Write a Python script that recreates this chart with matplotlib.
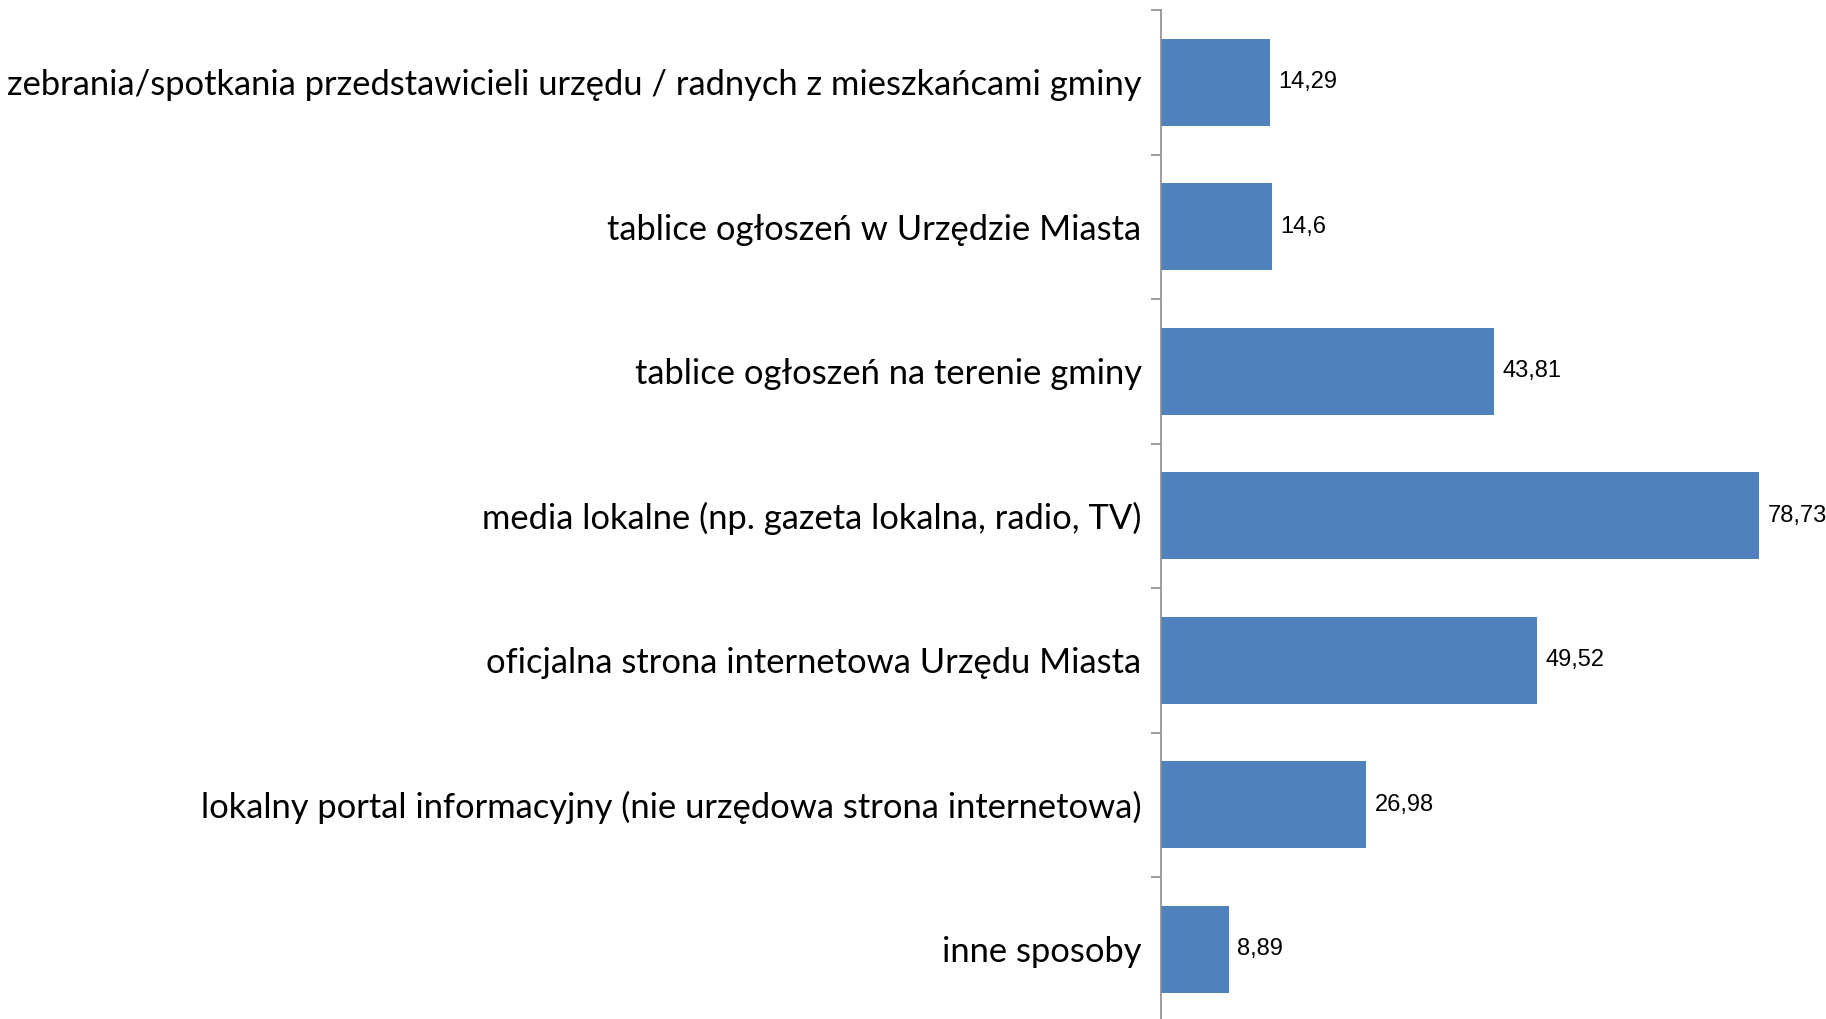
import matplotlib
matplotlib.use("Agg")
import matplotlib.pyplot as plt
import numpy as np

categories = [
    "zebrania/spotkania przedstawicieli urzędu / radnych z mieszkańcami gminy",
    "tablice ogłoszeń w Urzędzie Miasta",
    "tablice ogłoszeń na terenie gminy",
    "media lokalne (np. gazeta lokalna, radio, TV)",
    "oficjalna strona internetowa Urzędu Miasta",
    "lokalny portal informacyjny (nie urzędowa strona internetowa)",
    "inne sposoby",
]
values = [14.29, 14.6, 43.81, 78.73, 49.52, 26.98, 8.89]
value_labels = ["14,29", "14,6", "43,81", "78,73", "49,52", "26,98", "8,89"]

W, H = 1826, 1019
fig = plt.figure(figsize=(W / 100, H / 100), dpi=100)
ax_left = 1161 / W
ax_bottom = -2.6 / H
ax_top = 10 / H
ax = fig.add_axes([ax_left, ax_bottom, 1 - ax_left, 1 - ax_top - ax_bottom])

n = len(categories)
y = np.arange(n)
ax.barh(y, values, height=0.6, color="#4F81BD")
ax.set_ylim(n - 0.5, -0.5)
ax.set_xlim(0, (W - 1161) / 7.6)

for yi, v, lab in zip(y, values, value_labels):
    ax.annotate(lab, (v, yi), xytext=(6, 0), textcoords="offset points",
                va="center", ha="left", fontsize=17,
                family=["Liberation Sans Narrow", "Liberation Sans", "DejaVu Sans"])

label_family = ["Lato", "DejaVu Sans"]
# fit label size so the longest label spans the same width as in the reference
renderer = fig.canvas.get_renderer()
probe = fig.text(0, 0, categories[0], fontsize=20, family=label_family)
w20 = probe.get_window_extent(renderer).width
probe.remove()
label_size = 20 * 1135 / w20

ax.set_yticks(y)
ax.set_yticklabels(categories, family=label_family, fontsize=label_size)
ax.tick_params(axis="y", which="major", length=0, pad=14)
ax.set_yticks(np.arange(-0.5, n, 1), minor=True)
ax.tick_params(axis="y", which="minor", length=7, width=1.2, color="#8C8C8C", direction="out")
ax.set_xticks([])
for s in ["top", "right", "bottom"]:
    ax.spines[s].set_visible(False)
ax.spines["left"].set_color("#8C8C8C")
ax.spines["left"].set_linewidth(1.2)

fig.savefig("out.png", dpi=100)
